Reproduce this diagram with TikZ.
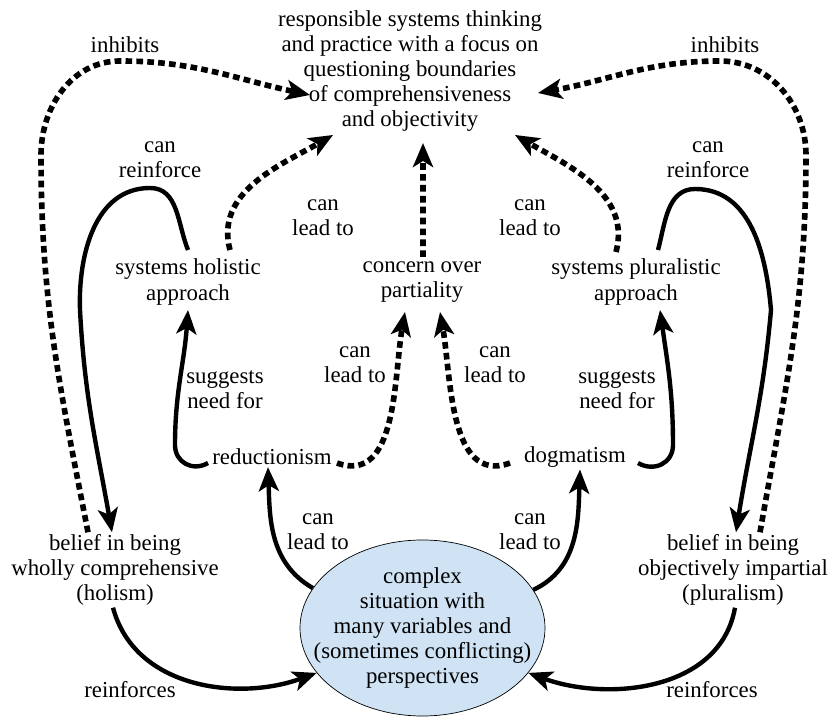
\documentclass[tikz,border=0pt]{standalone}
\usepackage{fontspec}
\setmainfont{Liberation Serif}
\usepackage{tikz}
\usetikzlibrary{arrows.meta}
\usetikzlibrary{shapes.geometric}
\definecolor{situationblue}{RGB}{207,227,244}

\begin{document}
\begin{tikzpicture}[
		every node/.style={align=center, inner sep=1pt, font=\fontsize{13}{14.3}\selectfont},
		link/.style={line width=2.5pt, -{Stealth[length=4.8mm,width=4mm,inset=1.2mm]}},
		dlink/.style={link, line width=3.2pt, dash pattern=on 3.8pt off 2.4pt},
	]
		\useasboundingbox (0,0) rectangle (16.56,14.4);
		% concepts
		\node (goal) at (8.2,12.98) {responsible systems thinking\\and practice with a focus on\\questioning boundaries\\of comprehensiveness\\and objectivity};
		\node (holistic) at (3.76,8.76) {systems holistic\\approach};
		\node (partiality) at (8.44,8.76) {concern over\\partiality};
		\node (pluralistic) at (12.72,8.76) {systems pluralistic\\approach};
		\node (reduct) at (5.44,5.26) {reductionism};
		\node (dogma) at (11.5,5.26) {dogmatism};
		\node (holism) at (2.3,3.0) {belief in being\\wholly comprehensive\\(holism)};
		\node (pluralism) at (14.66,3.0) {belief in being\\objectively impartial\\(pluralism)};
		\node[ellipse, draw, thin, fill=situationblue, minimum width=4.9cm, minimum height=3.52cm] (situation) at (8.45,1.84) {};
		\node (situationtext) at (situation.center) {complex\\situation with\\many variables and\\(sometimes conflicting)\\perspectives};
		% labels
		\node (inhibL) at (2.5,13.5) {inhibits};
		\node (inhibR) at (14.5,13.5) {inhibits};
		\node (reinfL) at (3.2,11.2) {can\\reinforce};
		\node (reinfR) at (14.16,11.2) {can\\reinforce};
		\node (leadTL) at (6.46,10.04) {can\\lead to};
		\node (leadTR) at (10.6,10.04) {can\\lead to};
		\node (leadML) at (7.1,7.1) {can\\lead to};
		\node (leadMR) at (9.9,7.1) {can\\lead to};
		\node (needL) at (4.5,6.6) {suggests\\need for};
		\node (needR) at (12.34,6.6) {suggests\\need for};
		\node (leadBL) at (6.36,3.76) {can\\lead to};
		\node (leadBR) at (10.6,3.76) {can\\lead to};
		\node (reinforcesL) at (2.6,0.6) {reinforces};
		\node (reinforcesR) at (14.24,0.6) {reinforces};
		% inhibits
		\draw[dlink] ([xshift=-0.54cm]holism.north) to[out=101,in=-90] (0.82,11.3) to[out=90,in=180] (2.4,13.18) to[out=0,in=168] ([shift={(-2.0,-0.48)}]goal.center);
		\draw[dlink] ([xshift=0.54cm]pluralism.north) to[out=80,in=-90] (16.12,11.3) to[out=90,in=0] (14.4,13.18) to[out=180,in=10] ([shift={(2.56,-0.44)}]goal.center);
		% can reinforce
		\draw[link] ([shift={(0,0.64)}]holistic.center) to[out=112,in=0] (3.0,10.64) to[out=180,in=92] (1.6,8.2) to[out=-87,in=100] ([xshift=-0.06cm]holism.north);
		\draw[link] ([shift={(0.44,0.64)}]pluralistic.center) to[out=75,in=180] (13.9,10.62) to[out=0,in=95] (15.42,8.2) to[out=-95,in=81] ([xshift=0.06cm]pluralism.north);
		% can lead to (upper)
		\draw[dlink] ([shift={(0.84,0.64)}]holistic.center) to[out=105,in=210] ([shift={(-1.54,-1.28)}]goal.center);
		\draw[dlink] ([shift={(-0.4,0.6)}]pluralistic.center) to[out=75,in=-30] ([shift={(2.1,-1.28)}]goal.center);
		\draw[dlink] ([shift={(0.02,0.5)}]partiality.center) -- ([shift={(0.26,-1.44)}]goal.center);
		% suggests need for
		\draw[link] ([shift={(-1.28,-0.12)}]reduct.center) to[out=-150,in=-90,looseness=1.2] (3.5,5.5) to[out=90,in=-94] ([shift={(0,-0.56)}]holistic.center);
		\draw[link] ([shift={(1.26,-0.12)}]dogma.center) to[out=-30,in=-90,looseness=1.2] (13.46,5.5) to[out=90,in=-82] ([shift={(0.48,-0.56)}]pluralistic.center);
		% can lead to (middle)
		\draw[dlink] ([shift={(1.3,-0.12)}]reduct.center) to[out=-20,in=-100] ([shift={(-0.34,-0.6)}]partiality.center);
		\draw[dlink] ([shift={(-1.3,-0.12)}]dogma.center) to[out=-160,in=-80] ([shift={(0.36,-0.6)}]partiality.center);
		% can lead to (lower)
		\draw[link] (situation.160) to[out=150,in=-88] ([xshift=-0.08cm]reduct.south);
		\draw[link] (situation.19) to[out=25,in=-92] ([xshift=0.1cm]dogma.south);
		% reinforces
		\draw[link] ([xshift=-0.04cm]holism.south) to[out=-75,in=200] (situation.203);
		\draw[link] ([xshift=0.04cm]pluralism.south) to[out=-100,in=-20] (situation.337);
	\end{tikzpicture}
\end{document}
